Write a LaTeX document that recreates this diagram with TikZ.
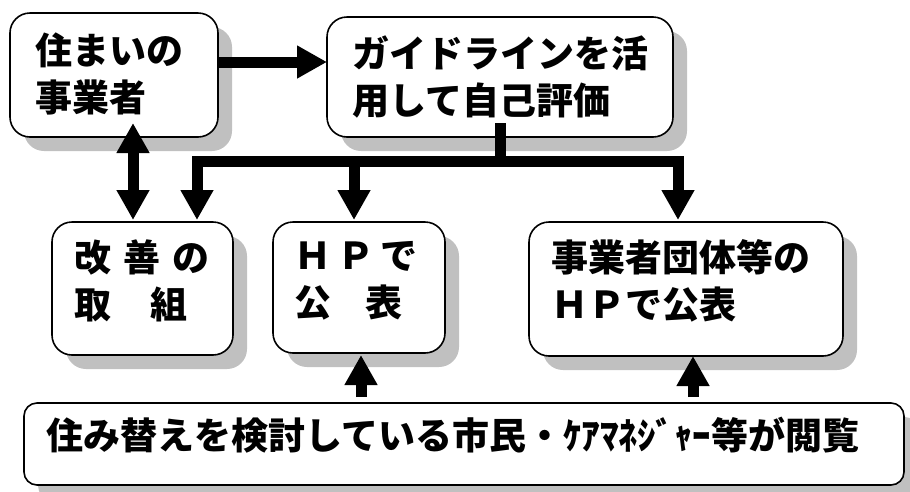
\documentclass[tikz,border=0pt]{standalone}
\usepackage{fontspec}
\setmainfont{Noto Sans CJK JP}
\usetikzlibrary{arrows.meta,shadows,calc}
\definecolor{shgray}{RGB}{192,192,192}
\begin{document}
\begin{tikzpicture}[x=1pt,y=-1pt,
  box/.style={draw=black, line width=1.6pt, fill=white, rounded corners=20pt,
    drop shadow={shadow xshift=14pt, shadow yshift=-14pt, fill=shgray, opacity=1},
    inner sep=0pt, outer sep=0pt},
  txt/.style={anchor=west, inner sep=0pt, align=left,
    font=\fontsize{37pt}{47pt}\selectfont\bfseries},
  arr/.style={line width=11pt, -{Triangle[length=30pt,width=31pt]}},
  darr/.style={line width=11pt, {Triangle[length=30pt,width=31pt]}-{Triangle[length=30pt,width=31pt]}},
  plain/.style={line width=11pt}]
\useasboundingbox (0,0) rectangle (910,491);
% boxes
\node[box, minimum width=208pt, minimum height=124pt] (b1) at (114,75) {};
\node[box, minimum width=346pt, minimum height=120pt] (b2) at (500,77) {};
\node[box, minimum width=181pt, minimum height=133pt] (b3) at (142.5,288.5) {};
\node[box, minimum width=172pt, minimum height=131pt] (b4) at (359,287.5) {};
\node[box, minimum width=314pt, minimum height=134pt] (b5) at (686,289) {};
\node[box, rounded corners=13pt, minimum width=880pt, minimum height=82pt] (b6) at (464,444) {};
% texts
\node[txt] (t1) at (35,73.5) {住まいの\\事業者};
\node[txt] (t2) at (352,76.5) {ガイドラインを活\\用して自己評価};
\node[txt] (t3) at (74,281) {改\hspace{12pt}善\hspace{12pt}の\\取\hspace{39pt}組};
\node[txt] (t4) at (294,281) {Ｈ\hspace{6pt}Ｐ\hspace{6pt}で\\公\hspace{34pt}表};
\node[txt] (t5) at (551,281) {事業者団体等の\\ＨＰで公表};
\node[txt] (t6) at (46,435) {住み替えを検討している市民・ｹｱﾏﾈｼﾞｬｰ等が閲覧};
% helper coordinates
\coordinate (ay) at (0,62);
\coordinate (ax) at (133,0);
\coordinate (by) at (0,161);
\coordinate (lx) at (197,0);
\coordinate (mx) at (354,0);
\coordinate (rx) at (678,0);
\coordinate (u1) at (361,0);
\coordinate (u2) at (693,0);
% connectors
\draw[arr] (b1.east |- ay) -- (b2.west |- ay);
\draw[darr] ([yshift=14pt]ax |- b1.south) -- ([yshift=2pt]ax |- b3.north);
\draw[plain] ([yshift=14pt]b2.south) -- (b2.south |- by);
\draw[arr] ([xshift=5.5pt]b2.south |- by) -| ([yshift=2pt]lx |- b3.north);
\draw[arr] ([xshift=-5.5pt]b2.south |- by) -| ([yshift=2pt]rx |- b5.north);
\draw[arr] (mx |- by) -- ([yshift=2pt]mx |- b4.north);
\draw[arr] ([yshift=6pt]u1 |- b6.north) -- ([yshift=-2pt]u1 |- b4.south);
\draw[arr] ([yshift=6pt]u2 |- b6.north) -- ([yshift=0pt]u2 |- b5.south);
\end{tikzpicture}
\end{document}
